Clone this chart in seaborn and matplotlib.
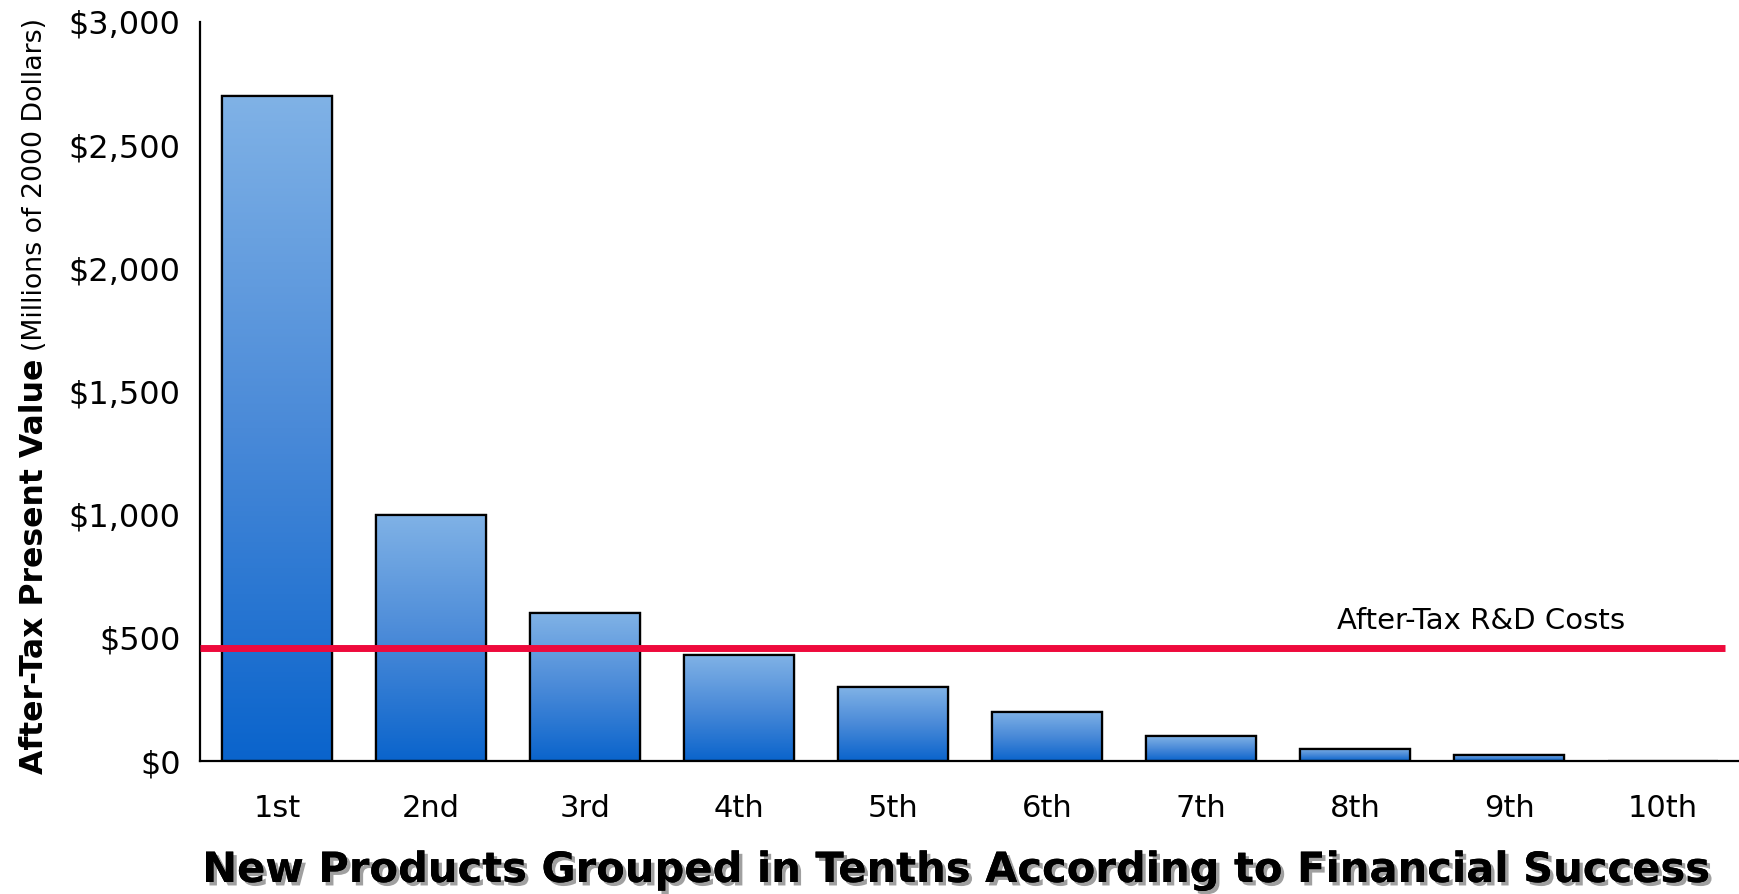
import numpy as np
import matplotlib
matplotlib.use("Agg")
import matplotlib.pyplot as plt
import matplotlib.patheffects as pe
from matplotlib.colors import LinearSegmentedColormap
import seaborn as sns
import pandas as pd

categories = ["1st", "2nd", "3rd", "4th", "5th", "6th", "7th", "8th", "9th", "10th"]
values = [2700, 1000, 600, 430, 300, 200, 100, 50, 25, 0]
rd_cost = 460
yticks = [0, 500, 1000, 1500, 2000, 2500, 3000]
ytick_labels = ["$0", "$500", "$1,000", "$1,500", "$2,000", "$2,500", "$3,000"]

sns.set_theme(style="white")
plt.rcParams['font.family'] = ['DejaVu Sans']
plt.rcParams['text.color'] = 'black'

W, H = 1740, 894
fig = plt.figure(figsize=(W / 100, H / 100), dpi=100)
ax = fig.add_axes([200 / W, 133 / H, 1 - 200 / W, (872 - 133) / H])

df = pd.DataFrame({"cat": categories, "val": values})
sns.barplot(data=df, x="cat", y="val", ax=ax, width=0.72, color="#80b2e6",
            edgecolor="black", linewidth=1.6, zorder=2)

cmap = LinearSegmentedColormap.from_list("g", ["#0a64cc", "#4a8ad8", "#80b2e6"])
grad = np.linspace(0, 1, 256).reshape(-1, 1)
for p in list(ax.patches):
    x0, y0 = p.get_x(), p.get_y()
    w, h = p.get_width(), p.get_height()
    if h <= 0:
        continue
    im = ax.imshow(grad, extent=[x0, x0 + w, y0, y0 + h], origin="lower",
                   cmap=cmap, aspect="auto", zorder=2.5)
    im.set_clip_path(p)
    ax.add_patch(plt.Rectangle((x0, y0), w, h, fill=False, edgecolor="black",
                               linewidth=1.6, zorder=3))

ax.hlines(rd_cost, -0.5, 9.4, color="#ee0a3c", linewidth=5, zorder=4)
ax.text(7.82, rd_cost + 110, "After-Tax R&D Costs", ha="center", va="center",
        fontsize=21, color="black", zorder=5)

ax.set_xlim(-0.5, 9.5)
ax.set_ylim(0, 3000)
ax.set_yticks(yticks)
ax.set_yticklabels(ytick_labels, fontsize=23, color="black")
for lab in ax.get_xticklabels():
    lab.set_color("black")
ax.tick_params(axis="x", labelsize=22, pad=24, length=0, labelcolor="black")
ax.tick_params(axis="y", pad=14, length=0, labelcolor="black")
ax.set_xlabel("")
ax.set_ylabel("")
for s in ["top", "right"]:
    ax.spines[s].set_visible(False)
for s in ["left", "bottom"]:
    ax.spines[s].set_color("black")
    ax.spines[s].set_linewidth(1.6)

fig.text(0.549, 12 / H, "New Products Grouped in Tenths According to Financial Success",
         ha="center", va="baseline", fontsize=30, fontweight="bold", color="black",
         path_effects=[pe.withSimplePatchShadow(offset=(2.5, -2.5), shadow_rgbFace="#888888", alpha=0.8), pe.Normal()])

yl1 = fig.text(35 / W, (894 - 774) / H, "After-Tax Present Value", rotation=90,
               ha="center", va="bottom", fontsize=22.7, fontweight="bold", color="black")
fig.canvas.draw()
r = fig.canvas.get_renderer()
bb = yl1.get_window_extent(r)
fig.text(35 / W, (bb.y1 + 8) / H, "(Millions of 2000 Dollars)", rotation=90,
         ha="center", va="bottom", fontsize=19.3, color="black")

fig.savefig("out.png", dpi=100, facecolor="white")
